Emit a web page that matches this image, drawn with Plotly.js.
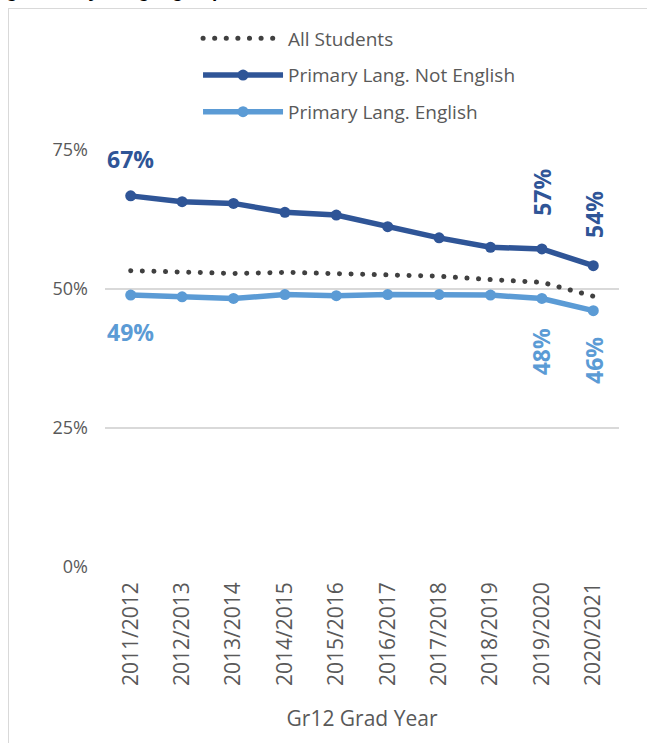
<!DOCTYPE html>
<html>
<head>
<meta charset="utf-8">
<script src="https://cdn.plot.ly/plotly-3.0.1.min.js"></script>
<style>
  html, body { margin: 0; padding: 0; background: #ffffff; overflow: hidden; }
  #frame {
    position: absolute; left: 8px; top: 8px; width: 660px; height: 760px;
    border: 1.5px solid #d9d9d9; box-sizing: border-box;
  }
  #chart { position: absolute; left: 0; top: 0; width: 647px; height: 743px; }
  /* round dots for the dotted series */
  path.js-line[style*="0.1px"] { stroke-linecap: round !important; }
</style>
</head>
<body>
<div id="frame"></div>
<div id="chart"></div>
<script>
// Graduation rate by primary language spoken at home
const gradYears = ['2011/2012', '2012/2013', '2013/2014', '2014/2015', '2015/2016',
                   '2016/2017', '2017/2018', '2018/2019', '2019/2020', '2020/2021'];
const allStudents = [53.3, 53.1, 52.8, 53.0, 52.8, 52.6, 52.3, 51.7, 51.2, 48.7];
const notEnglish  = [66.75, 65.7, 65.4, 63.8, 63.3, 61.2, 59.2, 57.5, 57.2, 54.2];
const english     = [48.9, 48.6, 48.3, 49.0, 48.8, 49.0, 49.0, 48.9, 48.3, 46.1];
const yTicks = [0, 25, 50, 75];

const darkBlue = '#2f5597';
const lightBlue = '#5b9bd5';
const greyText = '#595959';
const FONT = 'Open Sans, sans-serif';

const traces = [
  {
    name: 'All Students', x: gradYears, y: allStudents, type: 'scatter', mode: 'lines',
    line: { color: '#404040', width: 5, dash: '0.1px,11.5px' },
    legendgroup: 'a', hoverinfo: 'skip', cliponaxis: false
  },
  {
    name: 'Primary Lang. Not English', x: gradYears, y: notEnglish, type: 'scatter', mode: 'lines+markers',
    line: { color: darkBlue, width: 5.5 }, marker: { color: darkBlue, size: 11 },
    legendgroup: 'b', hoverinfo: 'skip', cliponaxis: false
  },
  {
    name: 'Primary Lang. English', x: gradYears, y: english, type: 'scatter', mode: 'lines+markers',
    line: { color: lightBlue, width: 5.5 }, marker: { color: lightBlue, size: 11 },
    legendgroup: 'c', hoverinfo: 'skip', cliponaxis: false
  }
];

// value labels: [series, index, color, angle, vertical shift]
const labelSpecs = [
  [notEnglish, 0, darkBlue, 0, 37],
  [notEnglish, 8, darkBlue, -90, 57],
  [notEnglish, 9, darkBlue, -90, 51],
  [english, 0, lightBlue, 0, -37],
  [english, 8, lightBlue, -90, -53],
  [english, 9, lightBlue, -90, -50]
];
const annotations = labelSpecs.map(([series, i, color, angle, shift]) => ({
  x: gradYears[i], y: series[i], xref: 'x', yref: 'y',
  text: Math.round(series[i]) + '%', showarrow: false, textangle: angle,
  yshift: shift, xanchor: 'center', yanchor: 'middle',
  font: { family: FONT, size: 23, color: color, weight: 700 }
}));

// chart heading (runs off the top edge)
annotations.push({
  xref: 'paper', yref: 'paper', x: -0.197, y: 1.353, xanchor: 'left', yanchor: 'bottom',
  text: 'g, Primary Language Spoken at Home', showarrow: false,
  font: { family: 'Liberation Sans, sans-serif', size: 19, color: '#000000', weight: 700 }
});

const layout = {
  width: 647, height: 743,
  margin: { l: 105, r: 28, t: 150, b: 176 },
  paper_bgcolor: 'rgba(0,0,0,0)', plot_bgcolor: 'rgba(0,0,0,0)',
  showlegend: true,
  legend: {
    x: 0.181, y: 1.313, xanchor: 'left', yanchor: 'top',
    font: { family: FONT, size: 19, color: greyText },
    tracegroupgap: 9, itemwidth: 80, bgcolor: 'rgba(0,0,0,0)'
  },
  xaxis: {
    type: 'category', range: [-0.5, 9.5], tickangle: -90,
    tickfont: { family: FONT, size: 21, color: greyText },
    ticks: '', showgrid: false, showline: false, zeroline: false,
    ticklabelstandoff: 10,
    title: { text: 'Gr12 Grad Year', font: { family: FONT, size: 21, color: greyText }, standoff: 26 }
  },
  yaxis: {
    range: [0, 75], tickvals: yTicks, ticktext: yTicks.map(v => v + '%'),
    tickfont: { family: FONT, size: 18, color: greyText },
    gridcolor: '#d9d9d9', gridwidth: 1.5, zeroline: false, showline: false, ticks: '',
    ticklabelstandoff: 16
  },
  annotations: annotations
};

Plotly.newPlot('chart', traces, layout, { displayModeBar: false, staticPlot: true });
</script>
</body>
</html>
